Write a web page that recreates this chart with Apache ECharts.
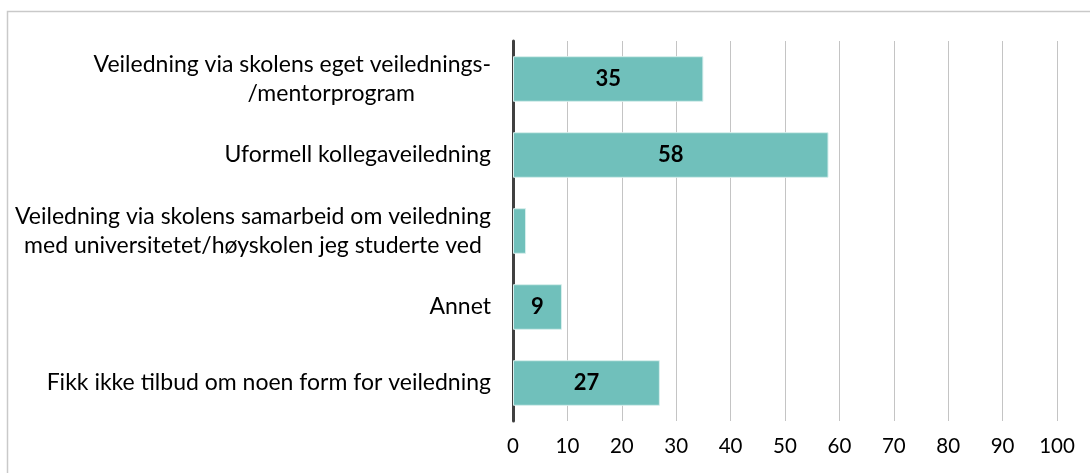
<!DOCTYPE html>
<html>
<head>
<meta charset="utf-8">
<script src="https://cdn.jsdelivr.net/npm/echarts@6/dist/echarts.min.js"></script>
<style>
  html, body { margin: 0; padding: 0; background: #fff; }
  #chart { width: 1090px; height: 473px; }
</style>
</head>
<body>
<div id="chart"></div>
<script>
// categories top to bottom
const categories = [
  'Veiledning via skolens eget veilednings-\n/mentorprogram',
  'Uformell kollegaveiledning',
  'Veiledning via skolens samarbeid om veiledning\nmed universitetet/høyskolen jeg studerte ved',
  'Annet',
  'Fikk ikke tilbud om noen form for veiledning'
]
const values = [35, 58, 2.4, 9, 27]
const showLabel = [true, true, false, true, true]
const xTicks = [0, 10, 20, 30, 40, 50, 60, 70, 80, 90, 100]

const font = 'Lato'
const chart = echarts.init(document.getElementById('chart'))

chart.setOption({
  animation: false,
  graphic: [{
    type: 'rect',
    shape: { x: 7.5, y: 11.5, width: 1200, height: 600 },
    style: { fill: 'none', stroke: '#c9c9c9', lineWidth: 1.5 }
  }],
  grid: { left: 513, right: 33, top: 41, bottom: 52 },
  xAxis: {
    type: 'value',
    min: xTicks[0],
    max: xTicks[xTicks.length - 1],
    interval: 10,
    axisLine: { show: false },
    axisTick: { show: false },
    splitLine: { show: true, lineStyle: { color: '#c4c4c4', width: 1 } },
    axisLabel: { color: '#000', fontFamily: font, fontSize: 20.5, margin: 15 }
  },
  yAxis: {
    type: 'category',
    inverse: true,
    data: categories,
    axisLine: { show: true, lineStyle: { color: '#404040', width: 3 } },
    axisTick: { show: false },
    axisLabel: {
      color: '#000',
      fontFamily: font,
      fontSize: 23,
      margin: 22,
      align: 'right',
      // wrapped lines are centred under each other; the "/..." continuation sits a bit right
      formatter: v => v.split('\n').map(s => (s[0] === '/' ? '{p|' : '{c|') + s + '}').join('\n'),
      rich: {
        c: { align: 'center', fontFamily: font, fontSize: 23, lineHeight: 29, color: '#000' },
        p: { align: 'center', fontFamily: font, fontSize: 23, lineHeight: 29, color: '#000', padding: [0, 0, 0, 78] }
      }
    }
  },
  series: [{
    type: 'bar',
    barCategoryGap: '40%',
    data: values.map((v, i) => ({ value: v, label: { show: showLabel[i] } })),
    itemStyle: { color: '#70c0bb', borderColor: '#d8efed', borderWidth: 1 },
    label: {
      show: true,
      position: 'inside',
      color: '#000',
      fontFamily: font,
      fontWeight: 'bold',
      fontSize: 22
    }
  }]
})
</script>
</body>
</html>
